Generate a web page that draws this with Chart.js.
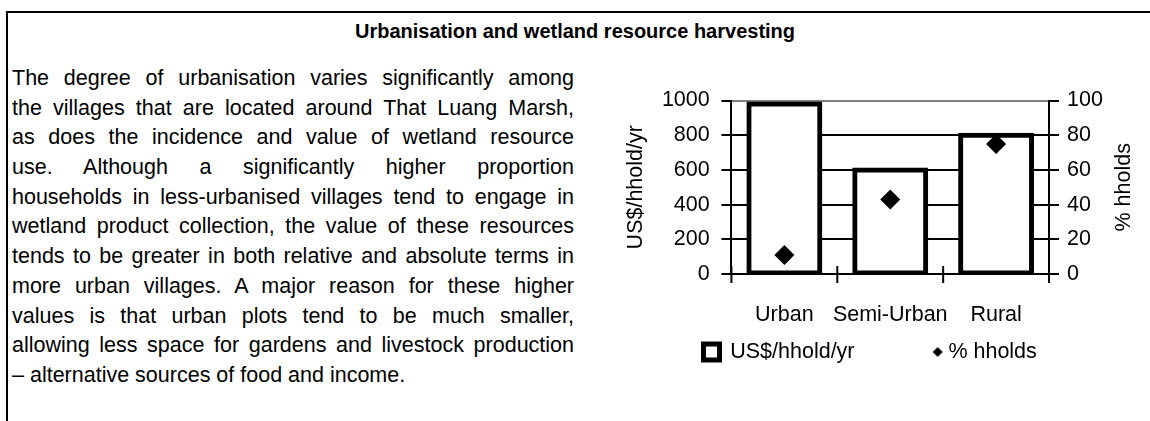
<!DOCTYPE html>
<html>
<head>
<meta charset="utf-8">
<script src="https://cdn.jsdelivr.net/npm/chart.js@4.4.1/dist/chart.umd.min.js"></script>
<style>
  html, body { margin: 0; padding: 0; background: #fff; }
  body { width: 1150px; height: 421px; position: relative; overflow: hidden;
         font-family: "Liberation Sans", Arial, sans-serif; color: #000; }
  #frameTop { position: absolute; left: 6px; top: 11px; width: 1150px; height: 2px; background: #000; }
  #frameLeft { position: absolute; left: 6px; top: 11px; width: 2px; height: 420px; background: #000; }
  #title { position: absolute; left: 0; top: 18px; width: 1150px; text-align: center;
           font-weight: bold; font-size: 20px; line-height: 26px; }
  #blurb { position: absolute; left: 12px; top: 64px; width: 562px; font-size: 21.5px; }
  #blurb div { height: 29.7px; line-height: 29.7px; white-space: nowrap;
               text-align: justify; text-align-last: justify; }
  #blurb div.last { text-align: left; text-align-last: left; }
  #chartBox { position: absolute; left: 600px; top: 60px; width: 550px; height: 361px; }
</style>
</head>
<body>
<div id="frameTop"></div>
<div id="frameLeft"></div>
<div id="title">Urbanisation and wetland resource harvesting</div>
<div id="blurb">
  <div>The degree of urbanisation varies significantly among</div>
  <div>the villages that are located around That Luang Marsh,</div>
  <div>as does the incidence and value of wetland resource</div>
  <div>use. Although a significantly higher proportion</div>
  <div>households in less-urbanised villages tend to engage in</div>
  <div>wetland product collection, the value of these resources</div>
  <div>tends to be greater in both relative and absolute terms in</div>
  <div>more urban villages. A major reason for these higher</div>
  <div>values is that urban plots tend to be much smaller,</div>
  <div>allowing less space for gardens and livestock production</div>
  <div class="last">– alternative sources of food and income.</div>
</div>
<div id="chartBox"><canvas id="chart" width="550" height="361"></canvas></div>
<script>
// values
var villageTypes = ['Urban', 'Semi-Urban', 'Rural'];
var valuePerHousehold = [980, 600, 800];   // US$/hhold/yr, left axis
var pctHouseholds = [11, 43, 75];          // % hholds, right axis
var leftTicks = [0, 200, 400, 600, 800, 1000];
var rightTicks = [0, 20, 40, 60, 80, 100];

var fontSpec = { family: '"Liberation Sans", Arial, sans-serif', size: 21.5 };

// small diamond for the legend, drawn a little right of the box centre
var legendDiamond = document.createElement('canvas');
legendDiamond.width = 32;
legendDiamond.height = 12;
var dctx = legendDiamond.getContext('2d');
dctx.fillStyle = '#000';
dctx.beginPath();
dctx.moveTo(24, 1); dctx.lineTo(29, 6); dctx.lineTo(24, 11); dctx.lineTo(19, 6);
dctx.closePath();
dctx.fill();

function gridColour(ctx) {
    return ctx.tick && ctx.tick.value === 1000 ? '#808080' : '#000';
}

// category tick marks cross the x axis, and the right title reads upwards
var extras = {
    id: 'extras',
    afterDatasetsDraw: function(chart) {
        var xs = chart.scales.x;
        var area = chart.chartArea;
        var ctx = chart.ctx;
        ctx.save();
        ctx.strokeStyle = '#000';
        ctx.lineWidth = 2;
        for (var i = 0; i <= villageTypes.length; i++) {
            var px;
            if (i === 0) px = area.left;
            else if (i === villageTypes.length) px = area.right;
            else px = (xs.getPixelForValue(i - 1) + xs.getPixelForValue(i)) / 2;
            ctx.beginPath();
            ctx.moveTo(px, area.bottom - 8);
            ctx.lineTo(px, area.bottom + 9);
            ctx.stroke();
        }
        ctx.restore();
    },
    afterDraw: function(chart) {
        var ys = chart.scales.y1;
        var ctx = chart.ctx;
        var lh = fontSpec.size * 1.2;
        ctx.save();
        ctx.translate(ys.right - lh / 2, (ys.top + ys.bottom) / 2);
        ctx.rotate(-Math.PI / 2);
        ctx.font = fontSpec.size + 'px ' + fontSpec.family;
        ctx.fillStyle = '#000';
        ctx.textAlign = 'center';
        ctx.textBaseline = 'middle';
        ctx.fillText('% hholds', 0, 0);
        ctx.restore();
    }
};

new Chart(document.getElementById('chart'), {
    type: 'bar',
    data: {
        labels: villageTypes,
        datasets: [{
            type: 'bar',
            label: 'US$/hhold/yr',
            data: valuePerHousehold,
            yAxisID: 'y',
            backgroundColor: '#fff',
            borderColor: '#000',
            borderWidth: 5,
            borderSkipped: false,
            inflateAmount: 2.5,
            barPercentage: 0.67,
            categoryPercentage: 1,
            pointStyle: 'rect',
            order: 1
        }, {
            type: 'line',
            label: '% hholds',
            data: pctHouseholds,
            yAxisID: 'y1',
            showLine: false,
            pointStyle: 'rectRot',
            pointRadius: 10,
            pointHoverRadius: 10,
            pointBackgroundColor: '#000',
            pointBorderColor: '#000',
            pointBorderWidth: 0,
            order: 0
        }]
    },
    options: {
        responsive: false,
        animation: false,
        events: [],
        layout: { padding: { left: 3.6, right: 13.3, top: 40.5, bottom: 48.25 } },
        plugins: {
            tooltip: { enabled: false },
            legend: {
                position: 'bottom',
                reverse: true,
                labels: {
                    usePointStyle: true,
                    boxWidth: 16,
                    boxHeight: 16,
                    padding: 13.35,
                    color: '#000',
                    font: fontSpec,
                    generateLabels: function(chart) {
                        var items = Chart.defaults.plugins.legend.labels.generateLabels(chart);
                        items.forEach(function(item) {
                            if (item.datasetIndex === 0) {
                                // trailing spaces open the gap between the two entries
                                item.text = item.text + '         ';
                                item.fillStyle = '#fff';
                                item.strokeStyle = '#000';
                                item.lineWidth = 5;
                            } else {
                                item.pointStyle = legendDiamond;
                            }
                        });
                        return items;
                    }
                }
            }
        },
        scales: {
            x: {
                // the visible tick marks come from the plugin; this long hidden tick just places the labels
                grid: { display: true, drawOnChartArea: false, color: '#000', tickColor: 'rgba(0,0,0,0)', lineWidth: 2, tickLength: 28.1, offset: true },
                border: { display: true, color: '#000', width: 2 },
                ticks: { color: '#000', font: fontSpec, padding: 0, maxRotation: 0, autoSkip: false }
            },
            y: {
                position: 'left',
                min: 0,
                max: 1000,
                afterBuildTicks: function(axis) {
                    axis.ticks = leftTicks.map(function(v) { return { value: v }; });
                },
                grid: { color: gridColour, tickColor: '#000', lineWidth: 2, tickLength: 10 },
                border: { display: true, color: '#000', width: 2 },
                ticks: { color: '#000', font: fontSpec, padding: 11.7, callback: function(v) { return String(v); } },
                title: { display: true, text: 'US$/hhold/yr', color: '#000', font: fontSpec, padding: { top: 19.5, bottom: 1.3 } }
            },
            y1: {
                position: 'right',
                min: 0,
                max: 100,
                afterBuildTicks: function(axis) {
                    axis.ticks = rightTicks.map(function(v) { return { value: v }; });
                },
                grid: { drawOnChartArea: false, color: '#000', lineWidth: 2, tickLength: 10 },
                border: { display: true, color: '#000', width: 2 },
                ticks: { color: '#000', font: fontSpec, padding: 8, callback: function(v) { return String(v); } },
                // space is kept here, the text itself is drawn by the plugin so it reads upwards
                title: { display: true, text: '% hholds', color: 'rgba(0,0,0,0)', font: fontSpec, padding: { top: 0, bottom: 0 } }
            }
        }
    },
    plugins: [extras]
});
</script>
</body>
</html>
